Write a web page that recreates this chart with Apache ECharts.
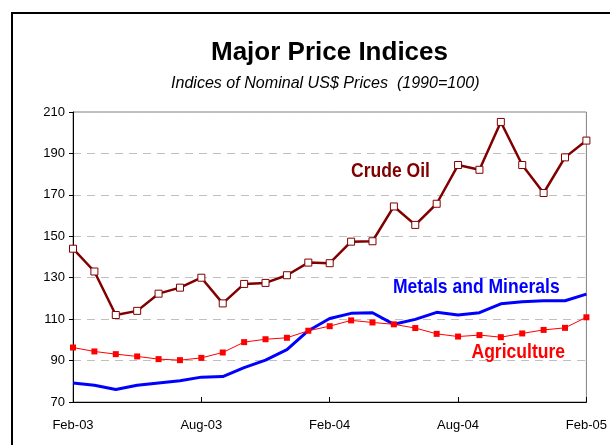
<!DOCTYPE html>
<html>
<head>
<meta charset="utf-8">
<script src="https://cdn.jsdelivr.net/npm/echarts@6/dist/echarts.min.js"></script>
<style>
  html, body { margin: 0; padding: 0; background: #fff; }
  #chart { width: 610px; height: 445px; }
</style>
</head>
<body>
<div id="chart"></div>
<script>
var myChart = echarts.init(document.getElementById('chart'));

// monthly, Feb-03 .. Feb-05
var months = ['Feb-03','Mar-03','Apr-03','May-03','Jun-03','Jul-03','Aug-03','Sep-03','Oct-03','Nov-03','Dec-03','Jan-04',
              'Feb-04','Mar-04','Apr-04','May-04','Jun-04','Jul-04','Aug-04','Sep-04','Oct-04','Nov-04','Dec-04','Jan-05','Feb-05'];

var crudeOil = [144, 133, 112, 114, 122.3, 125.2, 130, 117.6, 127, 127.5, 131.2, 137.3,
                137, 147.4, 147.6, 164.4, 155.5, 165.7, 184.4, 182.1, 205.2, 184.4, 170.9, 188.1, 196.2];

var metals = [79.2, 78.1, 76, 78.1, 79.2, 80.3, 82, 82.3, 86.6, 90.2, 95.3, 104.4,
              110.3, 112.8, 113.1, 107.5, 109.9, 113.3, 112, 113.1, 117.4, 118.4, 118.9, 118.9, 122.1];

var agriculture = [96.3, 94.4, 93.1, 92, 90.7, 90.2, 91.3, 93.9, 98.9, 100.3, 101, 104.4,
                   106.6, 109.4, 108.4, 107.5, 105.7, 102.9, 101.6, 102.3, 101.3, 103.1, 104.8, 105.8, 110.9];

var font = "'Liberation Sans', Arial, sans-serif";

// series labels drawn in the plot (condensed like the original)
function label(txt, x, y, color) {
  return {
    type: 'text', x: x, y: y, scaleX: 0.835, silent: true,
    style: { text: txt, fill: color, font: 'bold 21px ' + font, textAlign: 'left', textVerticalAlign: 'middle' }
  };
}

option = {
  backgroundColor: '#fff',
  animation: false,
  graphic: [{
    type: 'rect',
    shape: { x: 12, y: 13, width: 700, height: 500 },
    style: { fill: 'none', stroke: '#000', lineWidth: 2 },
    silent: true
  }, {
    type: 'text', x: 211, y: 52.5, silent: true,
    style: { text: 'Major Price Indices', fill: '#000', font: 'bold 26px ' + font, textAlign: 'left', textVerticalAlign: 'middle' }
  }, {
    type: 'text', x: 171, y: 83, scaleX: 0.945, silent: true,
    style: { text: 'Indices of Nominal US$ Prices  (1990=100)', fill: '#000', font: 'italic 17px ' + font, textAlign: 'left', textVerticalAlign: 'middle' }
  },
    label('Crude Oil', 351, 171, '#800000'),
    label('Metals and Minerals', 393, 287.5, '#0000ff'),
    label('Agriculture', 471.5, 352, '#ff0000')
  ],
  grid: {
    left: 73, right: 21, top: 112, bottom: 43,
    show: true, borderColor: '#808080', borderWidth: 1, backgroundColor: 'transparent'
  },
  xAxis: {
    type: 'category',
    data: months,
    boundaryGap: false,
    axisLine: { lineStyle: { color: '#000', width: 1 } },
    axisTick: { inside: true, length: 5, interval: 5, lineStyle: { color: '#000' } },
    axisLabel: { interval: 5, color: '#000', fontFamily: font, fontSize: 13, margin: 17 },
    splitLine: { show: false }
  },
  yAxis: {
    type: 'value',
    min: 70, max: 210, interval: 20,
    axisLine: { show: true, lineStyle: { color: '#000', width: 1 } },
    axisTick: { show: true, length: 4, lineStyle: { color: '#000' } },
    axisLabel: { color: '#000', fontFamily: font, fontSize: 13, margin: 8 },
    splitLine: { lineStyle: { color: '#c0c0c0', type: [8, 6] } }
  },
  series: [{
    name: 'Crude Oil',
    type: 'line',
    data: crudeOil,
    symbol: 'rect',
    symbolSize: 7,
    lineStyle: { color: '#800000', width: 2.5 },
    itemStyle: { color: '#fff', borderColor: '#800000', borderWidth: 1 },
    z: 4
  }, {
    name: 'Metals and Minerals',
    type: 'line',
    data: metals,
    symbol: 'none',
    lineStyle: { color: '#0000ff', width: 3 },
    z: 2
  }, {
    name: 'Agriculture',
    type: 'line',
    data: agriculture,
    symbol: 'rect',
    symbolSize: 6,
    lineStyle: { color: '#ff0000', width: 1 },
    itemStyle: { color: '#ff0000', borderWidth: 0 },
    z: 3
  }]
};

if (option && typeof option === "object") {
  myChart.setOption(option, true);
}
</script>
</body>
</html>
